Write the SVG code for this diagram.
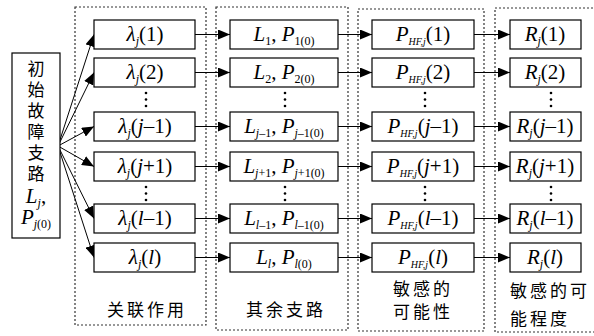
<svg xmlns="http://www.w3.org/2000/svg" width="594" height="336" viewBox="0 0 594 336">
<defs>
<marker id="ah" markerUnits="userSpaceOnUse" markerWidth="12" markerHeight="10" refX="12" refY="5" orient="auto">
<path d="M0,0 L12,5 L0,10 z" fill="#000"/>
</marker>
<style>
.box{fill:#fff;stroke:#000;stroke-width:1.2}
.grp{fill:none;stroke:#333;stroke-width:1.2;stroke-dasharray:2 2}
.m{font-family:"Liberation Serif","Times New Roman",serif;font-size:21px;fill:#000;text-anchor:middle}
.i{font-style:italic}
.s{font-size:12px}
.ss{font-size:10px}
.cn{font-family:"Noto Sans CJK SC","Noto Sans",sans-serif;font-size:17px;fill:#000}
.ln{stroke:#000;stroke-width:1;fill:none;marker-end:url(#ah)}
.dot{fill:#000}
</style>
</defs>
<rect width="594" height="336" fill="#fff"/>
<g id="groups">
<rect class="grp" x="75" y="7" width="131" height="318"/>
<rect class="grp" x="216" y="7" width="132" height="323"/>
<rect class="grp" x="358" y="9" width="126" height="322"/>
<rect class="grp" x="495" y="8" width="100" height="324"/>
</g>
<g id="connectors">
<line class="ln" x1="58" y1="146" x2="94" y2="34.5"/>
<line class="ln" x1="58" y1="146" x2="94" y2="72.5"/>
<line class="ln" x1="58" y1="146" x2="94" y2="126.5"/>
<line class="ln" x1="58" y1="146" x2="94" y2="166.5"/>
<line class="ln" x1="58" y1="146" x2="94" y2="218.5"/>
<line class="ln" x1="58" y1="146" x2="94" y2="257.5"/>
<line class="ln" x1="195" y1="34.5" x2="230" y2="34.5"/>
<line class="ln" x1="195" y1="72.5" x2="230" y2="72.5"/>
<line class="ln" x1="195" y1="126.5" x2="230" y2="126.5"/>
<line class="ln" x1="195" y1="166.5" x2="230" y2="166.5"/>
<line class="ln" x1="195" y1="218.5" x2="230" y2="218.5"/>
<line class="ln" x1="195" y1="257.5" x2="230" y2="257.5"/>
<line class="ln" x1="338" y1="34.5" x2="372" y2="34.5"/>
<line class="ln" x1="338" y1="72.5" x2="372" y2="72.5"/>
<line class="ln" x1="338" y1="126.5" x2="372" y2="126.5"/>
<line class="ln" x1="338" y1="166.5" x2="372" y2="166.5"/>
<line class="ln" x1="338" y1="218.5" x2="372" y2="218.5"/>
<line class="ln" x1="338" y1="257.5" x2="372" y2="257.5"/>
<line class="ln" x1="474" y1="34.5" x2="510" y2="34.5"/>
<line class="ln" x1="474" y1="72.5" x2="510" y2="72.5"/>
<line class="ln" x1="474" y1="126.5" x2="510" y2="126.5"/>
<line class="ln" x1="474" y1="166.5" x2="510" y2="166.5"/>
<line class="ln" x1="474" y1="218.5" x2="510" y2="218.5"/>
<line class="ln" x1="474" y1="257.5" x2="510" y2="257.5"/>
</g>
<g id="source">
<rect class="box" x="12" y="53" width="48" height="185"/>
<text class="cn" text-anchor="middle" x="36" y="75">初<tspan x="36" dy="21">始</tspan><tspan x="36" dy="21">故</tspan><tspan x="36" dy="21">障</tspan><tspan x="36" dy="21">支</tspan><tspan x="36" dy="21">路</tspan></text>
<text class="m" x="36" y="203"><tspan class="i">L</tspan><tspan class="s i" dy="4">j</tspan><tspan dy="-4">,</tspan></text>
<text class="m" x="36" y="224"><tspan class="i">P</tspan><tspan class="s" dy="4"><tspan class="i">j</tspan>(0)</tspan></text>
</g>
<g id="col1">
<rect class="box" x="94" y="20" width="101" height="29"/>
<rect class="box" x="94" y="58" width="101" height="29"/>
<rect class="box" x="94" y="112" width="101" height="29"/>
<rect class="box" x="94" y="152" width="101" height="29"/>
<rect class="box" x="94" y="204" width="101" height="29"/>
<rect class="box" x="94" y="243" width="101" height="29"/>
<text class="m" x="145" y="41"><tspan class="i">λ</tspan><tspan class="s i" dy="4">j</tspan><tspan dy="-4">(1)</tspan></text>
<text class="m" x="145" y="79"><tspan class="i">λ</tspan><tspan class="s i" dy="4">j</tspan><tspan dy="-4">(2)</tspan></text>
<text class="m" x="145" y="133"><tspan class="i">λ</tspan><tspan class="s i" dy="4">j</tspan><tspan dy="-4">(</tspan><tspan class="i">j</tspan>–1)</text>
<text class="m" x="145" y="173"><tspan class="i">λ</tspan><tspan class="s i" dy="4">j</tspan><tspan dy="-4">(</tspan><tspan class="i">j</tspan>+1)</text>
<text class="m" x="145" y="225"><tspan class="i">λ</tspan><tspan class="s i" dy="4">j</tspan><tspan dy="-4">(</tspan><tspan class="i">l</tspan>–1)</text>
<text class="m" x="145" y="264"><tspan class="i">λ</tspan><tspan class="s i" dy="4">j</tspan><tspan dy="-4">(</tspan><tspan class="i">l</tspan>)</text>
<circle class="dot" cx="146" cy="93" r="1.3"/><circle class="dot" cx="146" cy="99.5" r="1.3"/><circle class="dot" cx="146" cy="106" r="1.3"/>
<circle class="dot" cx="146" cy="187" r="1.3"/><circle class="dot" cx="146" cy="193.5" r="1.3"/><circle class="dot" cx="146" cy="200" r="1.3"/>
</g>
<g id="col2">
<rect class="box" x="230" y="20" width="108" height="29"/>
<rect class="box" x="230" y="58" width="108" height="29"/>
<rect class="box" x="230" y="112" width="108" height="29"/>
<rect class="box" x="230" y="152" width="108" height="29"/>
<rect class="box" x="230" y="204" width="108" height="29"/>
<rect class="box" x="230" y="243" width="108" height="29"/>
<text class="m" x="284" y="41"><tspan class="i">L</tspan><tspan class="s" dy="4">1</tspan><tspan dy="-4">, </tspan><tspan class="i">P</tspan><tspan class="s" dy="4">1(0)</tspan></text>
<text class="m" x="284" y="79"><tspan class="i">L</tspan><tspan class="s" dy="4">2</tspan><tspan dy="-4">, </tspan><tspan class="i">P</tspan><tspan class="s" dy="4">2(0)</tspan></text>
<text class="m" x="284" y="133"><tspan class="i">L</tspan><tspan class="s" dy="4"><tspan class="i">j</tspan>–1</tspan><tspan dy="-4">, </tspan><tspan class="i">P</tspan><tspan class="s" dy="4"><tspan class="i">j</tspan>–1(0)</tspan></text>
<text class="m" x="284" y="173"><tspan class="i">L</tspan><tspan class="s" dy="4"><tspan class="i">j</tspan>+1</tspan><tspan dy="-4">, </tspan><tspan class="i">P</tspan><tspan class="s" dy="4"><tspan class="i">j</tspan>+1(0)</tspan></text>
<text class="m" x="284" y="225"><tspan class="i">L</tspan><tspan class="s" dy="4"><tspan class="i">l</tspan>–1</tspan><tspan dy="-4">, </tspan><tspan class="i">P</tspan><tspan class="s" dy="4"><tspan class="i">l</tspan>–1(0)</tspan></text>
<text class="m" x="284" y="264"><tspan class="i">L</tspan><tspan class="s i" dy="4">l</tspan><tspan dy="-4">, </tspan><tspan class="i">P</tspan><tspan class="s" dy="4"><tspan class="i">l</tspan>(0)</tspan></text>
<circle class="dot" cx="285" cy="93" r="1.3"/><circle class="dot" cx="285" cy="99.5" r="1.3"/><circle class="dot" cx="285" cy="106" r="1.3"/>
<circle class="dot" cx="285" cy="187" r="1.3"/><circle class="dot" cx="285" cy="193.5" r="1.3"/><circle class="dot" cx="285" cy="200" r="1.3"/>
</g>
<g id="col3">
<rect class="box" x="372" y="20" width="102" height="29"/>
<rect class="box" x="372" y="58" width="102" height="29"/>
<rect class="box" x="372" y="112" width="102" height="29"/>
<rect class="box" x="372" y="152" width="102" height="29"/>
<rect class="box" x="372" y="204" width="102" height="29"/>
<rect class="box" x="372" y="243" width="102" height="29"/>
<text class="m" x="423" y="41"><tspan class="i">P</tspan><tspan class="ss i" dy="4">HF,j</tspan><tspan dy="-4">(1)</tspan></text>
<text class="m" x="423" y="79"><tspan class="i">P</tspan><tspan class="ss i" dy="4">HF,j</tspan><tspan dy="-4">(2)</tspan></text>
<text class="m" x="423" y="133"><tspan class="i">P</tspan><tspan class="ss i" dy="4">HF,j</tspan><tspan dy="-4">(</tspan><tspan class="i">j</tspan>–1)</text>
<text class="m" x="423" y="173"><tspan class="i">P</tspan><tspan class="ss i" dy="4">HF,j</tspan><tspan dy="-4">(</tspan><tspan class="i">j</tspan>+1)</text>
<text class="m" x="423" y="225"><tspan class="i">P</tspan><tspan class="ss i" dy="4">HF,j</tspan><tspan dy="-4">(</tspan><tspan class="i">l</tspan>–1)</text>
<text class="m" x="423" y="264"><tspan class="i">P</tspan><tspan class="ss i" dy="4">HF,j</tspan><tspan dy="-4">(</tspan><tspan class="i">l</tspan>)</text>
<circle class="dot" cx="425" cy="93" r="1.3"/><circle class="dot" cx="425" cy="99.5" r="1.3"/><circle class="dot" cx="425" cy="106" r="1.3"/>
<circle class="dot" cx="425" cy="187" r="1.3"/><circle class="dot" cx="425" cy="193.5" r="1.3"/><circle class="dot" cx="425" cy="200" r="1.3"/>
</g>
<g id="col4">
<rect class="box" x="510" y="20" width="71" height="29"/>
<rect class="box" x="510" y="58" width="71" height="29"/>
<rect class="box" x="510" y="112" width="71" height="29"/>
<rect class="box" x="510" y="152" width="71" height="29"/>
<rect class="box" x="510" y="204" width="71" height="29"/>
<rect class="box" x="510" y="243" width="71" height="29"/>
<text class="m" x="545" y="41"><tspan class="i">R</tspan><tspan class="s i" dy="4">j</tspan><tspan dy="-4">(1)</tspan></text>
<text class="m" x="545" y="79"><tspan class="i">R</tspan><tspan class="s i" dy="4">j</tspan><tspan dy="-4">(2)</tspan></text>
<text class="m" x="545" y="133"><tspan class="i">R</tspan><tspan class="s i" dy="4">j</tspan><tspan dy="-4">(</tspan><tspan class="i">j</tspan>–1)</text>
<text class="m" x="545" y="173"><tspan class="i">R</tspan><tspan class="s i" dy="4">j</tspan><tspan dy="-4">(</tspan><tspan class="i">j</tspan>+1)</text>
<text class="m" x="545" y="225"><tspan class="i">R</tspan><tspan class="s i" dy="4">j</tspan><tspan dy="-4">(</tspan><tspan class="i">l</tspan>–1)</text>
<text class="m" x="545" y="264"><tspan class="i">R</tspan><tspan class="s i" dy="4">j</tspan><tspan dy="-4">(</tspan><tspan class="i">l</tspan>)</text>
<circle class="dot" cx="551" cy="93" r="1.3"/><circle class="dot" cx="551" cy="99.5" r="1.3"/><circle class="dot" cx="551" cy="106" r="1.3"/>
<circle class="dot" cx="551" cy="187" r="1.3"/><circle class="dot" cx="551" cy="193.5" r="1.3"/><circle class="dot" cx="551" cy="200" r="1.3"/>
</g>
<g id="labels">
<text class="cn" x="147" y="316" text-anchor="middle" letter-spacing="3">关联作用</text>
<text class="cn" x="286" y="316" text-anchor="middle" letter-spacing="3">其余支路</text>
<text class="cn" x="423" y="295" text-anchor="middle" letter-spacing="3">敏感的</text>
<text class="cn" x="423" y="318" text-anchor="middle" letter-spacing="3">可能性</text>
<text class="cn" x="510" y="297" letter-spacing="3">敏感的可</text>
<text class="cn" x="510" y="325" letter-spacing="3">能程度</text>
</g>
</svg>
